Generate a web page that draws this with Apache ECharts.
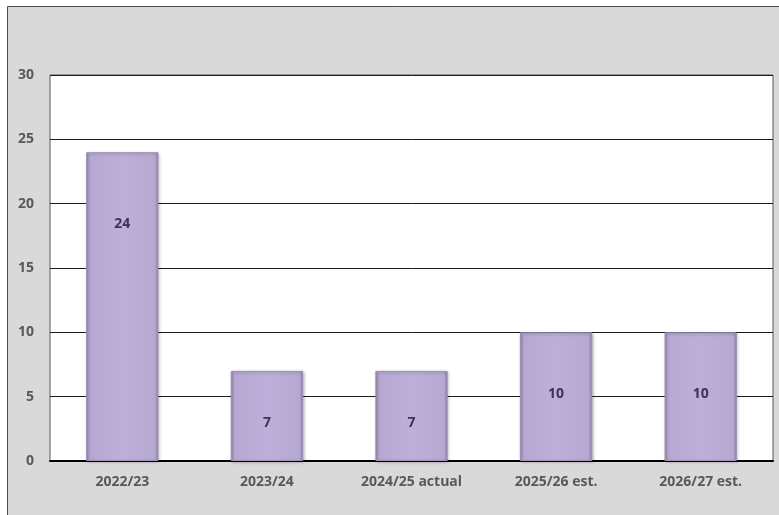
<!DOCTYPE html>
<html>
<head>
<meta charset="utf-8">
<script src="https://cdn.jsdelivr.net/npm/echarts@6/dist/echarts.min.js"></script>
<style>
  html, body { margin: 0; padding: 0; background: #ffffff; }
  #chart { width: 779px; height: 515px; }
</style>
</head>
<body>
<div id="chart"></div>
<script>
// Yearly values by period
const categories = ['2022/23', '2023/24', '2024/25 actual', '2025/26 est.', '2026/27 est.'];
const values = [24, 7, 7, 10, 10];
const yTicks = [0, 5, 10, 15, 20, 25, 30];

// Distance of each value label below its bar top (px)
const labelDrop = [72, 52, 52, 62, 62];

const chart = echarts.init(document.getElementById('chart'), null, { renderer: 'canvas' });

const barFill = new echarts.graphic.LinearGradient(0, 0, 1, 0, [
  { offset: 0, color: '#8f86ab' },
  { offset: 0.05, color: '#b6a8d1' },
  { offset: 0.5, color: '#bdafd9' },
  { offset: 0.95, color: '#b6a8d1' },
  { offset: 1, color: '#8a80a6' }
]);

const axisFont = {
  color: '#595959',
  fontFamily: 'Open Sans',
  fontWeight: 'bold',
  fontSize: 14
};

const option = {
  animation: false,
  backgroundColor: '#ffffff',
  graphic: [{
    type: 'rect',
    z: -10,
    silent: true,
    shape: { x: 7.5, y: 6.5, width: 900, height: 600 },
    style: { fill: '#d9d9d9', stroke: '#4d4d4d', lineWidth: 1 }
  }],
  grid: {
    left: 50, top: 75, right: 6, bottom: 54,
    show: true,
    backgroundColor: '#ffffff',
    borderColor: '#595959',
    borderWidth: 1
  },
  xAxis: {
    type: 'category',
    data: categories,
    axisTick: { show: false },
    axisLine: { lineStyle: { color: '#000000', width: 2 } },
    axisLabel: Object.assign({ margin: 14 }, axisFont)
  },
  yAxis: {
    type: 'value',
    min: yTicks[0],
    max: yTicks[yTicks.length - 1],
    interval: yTicks[1] - yTicks[0],
    axisLine: { show: false },
    axisTick: { show: false },
    splitLine: { lineStyle: { color: '#1a1a1a', width: 1 } },
    axisLabel: Object.assign({ margin: 16 }, axisFont)
  },
  series: [{
    type: 'bar',
    barWidth: '50%',
    data: values.map((v, i) => ({
      value: v,
      label: { position: ['50%', labelDrop[i]] }
    })),
    itemStyle: {
      color: barFill,
      borderColor: '#9b90b8',
      borderWidth: 1,
      shadowColor: 'rgba(0,0,0,0.25)',
      shadowBlur: 3,
      shadowOffsetX: 1,
      shadowOffsetY: 1
    },
    label: {
      show: true,
      align: 'center',
      verticalAlign: 'middle',
      color: '#3f3151',
      fontFamily: 'Open Sans',
      fontWeight: 'bold',
      fontSize: 14
    }
  }]
};

chart.setOption(option);
</script>
</body>
</html>
